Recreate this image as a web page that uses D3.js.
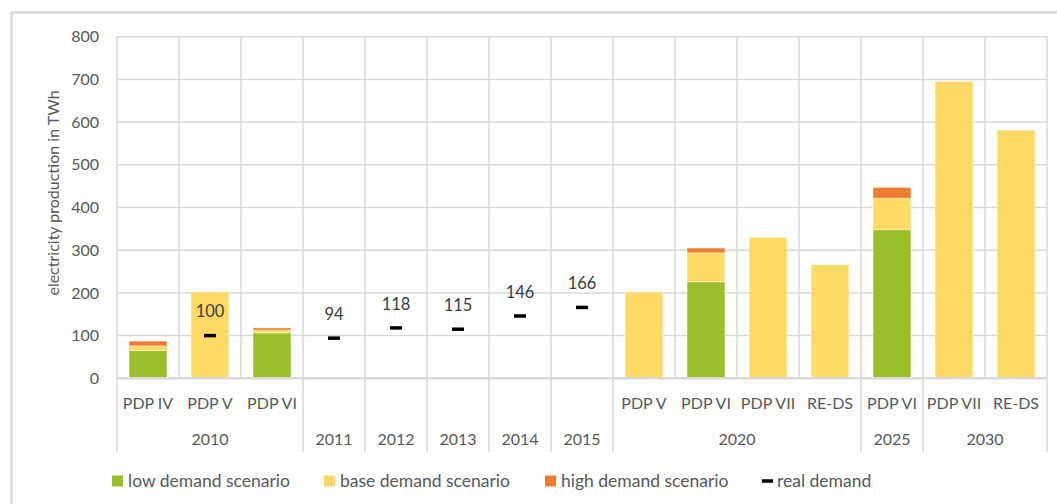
<!DOCTYPE html>
<html>
<head>
<meta charset="utf-8">
<script src="https://cdn.jsdelivr.net/npm/d3@7"></script>
<style>
  body { margin: 0; background: #fff; }
  svg { display: block; font-family: Lato, "Open Sans", sans-serif; }
</style>
</head>
<body>
<svg id="chart" width="1057" height="504"></svg>
<script>
// categories on the x axis, grouped by year
const categories = ['PDP IV', 'PDP V', 'PDP VI', '', '', '', '', '', 'PDP V', 'PDP VI', 'PDP VII', 'RE-DS', 'PDP VI', 'PDP VII', 'RE-DS'];
const groupLabels = ['2010', '2011', '2012', '2013', '2014', '2015', '2020', '2025', '2030'];
const groupSizes = [3, 1, 1, 1, 1, 1, 4, 1, 2];

// scenario totals in TWh (null = no value)
const lowDemand  = [65, null, 106, null, null, null, null, null, null, 226, null, null, 348, null, null];
const baseDemand = [76, 202, 113, null, null, null, null, null, 202, 294, 330, 266, 422, 695, 581];
const highDemand = [87, null, 118, null, null, null, null, null, null, 305, null, null, 447, null, null];
const realDemand = [null, 100, null, 94, 118, 115, 146, 166, null, null, null, null, null, null, null];

const yTicks = [0, 100, 200, 300, 400, 500, 600, 700, 800];

const colors = { low: '#9bbf2c', base: '#ffd966', high: '#ed7d31', real: '#000' };
const gridColor = '#d9d9d9';
const textColor = '#595959';

const svg = d3.select('#chart');

// outer chart border (runs off the right/bottom edge like the original)
svg.append('rect')
    .attr('x', 11.5).attr('y', 12.5).attr('width', 1100).attr('height', 600)
    .attr('fill', 'none').attr('stroke', gridColor).attr('stroke-width', 2.5);

const plot = { left: 117, right: 1047, top: 36.7, bottom: 378.3 };

const x = d3.scaleBand()
    .domain(d3.range(categories.length))
    .range([plot.left, plot.right]);
const y = d3.scaleLinear().domain([0, 800]).range([plot.bottom, plot.top]);
const bw = x.bandwidth();
const barW = bw * 0.61;

// horizontal gridlines
svg.append('g').selectAll('line').data(yTicks.filter(t => t > 0)).join('line')
    .attr('x1', plot.left).attr('x2', plot.right)
    .attr('y1', d => y(d)).attr('y2', d => y(d))
    .attr('stroke', gridColor).attr('stroke-width', 1.5);

// vertical gridlines at every category boundary
const bounds = d3.range(categories.length + 1).map(i => i < categories.length ? x(i) : plot.right);
svg.append('g').selectAll('line').data(bounds).join('line')
    .attr('x1', d => d).attr('x2', d => d)
    .attr('y1', plot.top).attr('y2', plot.bottom)
    .attr('stroke', gridColor).attr('stroke-width', 1.5);

// y tick labels
svg.append('g').selectAll('text').data(yTicks).join('text')
    .attr('x', 99).attr('y', d => y(d))
    .attr('dy', '0.35em').attr('text-anchor', 'end')
    .attr('font-size', 16).attr('fill', textColor)
    .text(d => d);

// y axis title
svg.append('text')
    .attr('transform', 'translate(53,193) rotate(-90)')
    .attr('text-anchor', 'middle').attr('dy', '0.35em')
    .attr('font-size', 16).attr('fill', textColor)
    .text('electricity production in TWh');

// stacked bars: low, base-low, high-base
const segments = [];
categories.forEach((c, i) => {
  let bottom = 0;
  [['low', lowDemand[i]], ['base', baseDemand[i]], ['high', highDemand[i]]].forEach(([k, v]) => {
    if (v == null) return;
    segments.push({ i: i, key: k, y0: bottom, y1: v });
    bottom = v;
  });
});
svg.append('g').selectAll('rect').data(segments).join('rect')
    .attr('x', d => x(d.i) + (bw - barW) / 2)
    .attr('width', barW)
    .attr('y', d => y(d.y1))
    .attr('height', d => y(d.y0) - y(d.y1))
    .attr('fill', d => colors[d.key])
    .attr('stroke', 'rgba(255,255,255,0.35)').attr('stroke-width', 1);

// x axis base line
svg.append('line')
    .attr('x1', plot.left).attr('x2', plot.right)
    .attr('y1', plot.bottom).attr('y2', plot.bottom)
    .attr('stroke', gridColor).attr('stroke-width', 2.5);

// real demand markers and labels
const realPts = realDemand.map((v, i) => ({ i, v })).filter(d => d.v != null);
svg.append('g').selectAll('rect').data(realPts).join('rect')
    .attr('x', d => x(d.i) + bw / 2 - 6).attr('width', 12)
    .attr('y', d => y(d.v) - 1.75).attr('height', 3.5)
    .attr('fill', colors.real);
svg.append('g').selectAll('text').data(realPts).join('text')
    .attr('x', d => x(d.i) + bw / 2).attr('y', d => y(d.v) - 24)
    .attr('dy', '0.35em').attr('text-anchor', 'middle')
    .attr('font-size', 16.5).attr('fill', '#404040')
    .text(d => d.v);

// category labels
svg.append('g').selectAll('text').data(categories).join('text')
    .attr('x', (d, i) => x(i) + bw / 2).attr('y', 403.5)
    .attr('dy', '0.35em').attr('text-anchor', 'middle')
    .attr('font-size', 16).attr('fill', textColor)
    .text(d => d);

// year group labels and separators
const groupStart = d3.cumsum([0].concat(groupSizes));
svg.append('g').selectAll('text').data(groupLabels).join('text')
    .attr('x', (d, i) => (x(groupStart[i]) + (x(groupStart[i + 1] - 1) + bw)) / 2)
    .attr('y', 439.5).attr('dy', '0.35em').attr('text-anchor', 'middle')
    .attr('font-size', 16).attr('fill', textColor)
    .text(d => d);
const sepX = groupStart.map(s => s < categories.length ? x(s) : plot.right);
svg.append('g').selectAll('line').data(sepX).join('line')
    .attr('x1', d => d).attr('x2', d => d)
    .attr('y1', plot.bottom).attr('y2', 452)
    .attr('stroke', gridColor).attr('stroke-width', 1.5);

// legend
const legendItems = [
  { label: 'low demand scenario', key: 'low', x: 112 },
  { label: 'base demand scenario', key: 'base', x: 324 },
  { label: 'high demand scenario', key: 'high', x: 545 },
  { label: 'real demand', key: 'real', x: 762 }
];
const lg = svg.append('g').selectAll('g').data(legendItems).join('g')
    .attr('transform', d => `translate(${d.x},481)`);
lg.append('rect')
    .attr('x', 0).attr('width', 11)
    .attr('y', d => d.key === 'real' ? -1.75 : -5.5)
    .attr('height', d => d.key === 'real' ? 3.5 : 11)
    .attr('fill', d => colors[d.key]);
lg.append('text')
    .attr('x', d => d.key === 'real' ? 15 : 16).attr('dy', '0.35em')
    .attr('font-size', 17.5).attr('fill', textColor)
    .text(d => d.label);
</script>
</body>
</html>
